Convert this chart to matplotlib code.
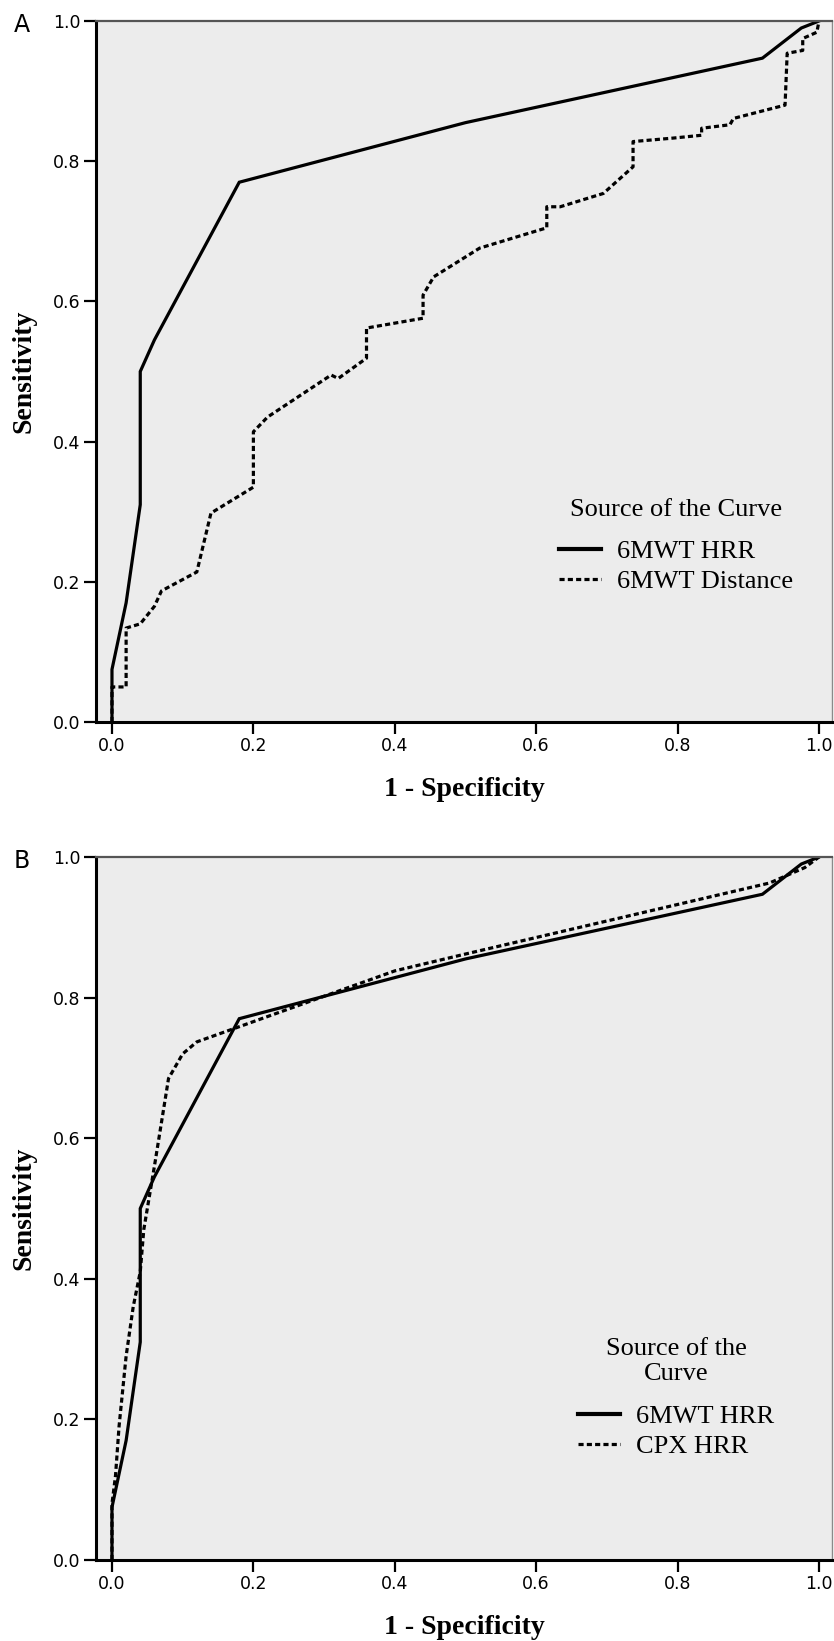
import matplotlib
matplotlib.use("Agg")
import matplotlib.pyplot as plt

# ---- data ----
hrr6_fpr = [0.0, 0.0, 0.02, 0.04, 0.04, 0.06, 0.18, 0.50, 0.92, 0.975, 1.0]
hrr6_tpr = [0.0, 0.075, 0.17, 0.31, 0.50, 0.545, 0.77, 0.855, 0.947, 0.99, 1.0]

dist_fpr = [0.0, 0.0, 0.02, 0.02, 0.04, 0.06, 0.07, 0.12, 0.14, 0.20, 0.20,
            0.22, 0.25, 0.31, 0.32, 0.36, 0.36, 0.44, 0.44, 0.455, 0.52,
            0.615, 0.615, 0.634, 0.695, 0.737, 0.737, 0.794, 0.834, 0.834,
            0.874, 0.879, 0.952, 0.955, 0.977, 0.977, 0.997, 1.0]
dist_tpr = [0.0, 0.05, 0.05, 0.134, 0.14, 0.165, 0.187, 0.214, 0.298, 0.335, 0.414,
            0.435, 0.455, 0.495, 0.49, 0.519, 0.562, 0.576, 0.609, 0.635, 0.676,
            0.705, 0.735, 0.735, 0.754, 0.792, 0.828, 0.833, 0.837, 0.847,
            0.852, 0.861, 0.88, 0.954, 0.958, 0.975, 0.984, 1.0]

cpx_fpr = [0.0, 0.0, 0.005, 0.01, 0.02, 0.03, 0.04, 0.045, 0.06, 0.08, 0.10,
           0.12, 0.17, 0.40, 0.50, 0.93, 0.98, 1.0]
cpx_tpr = [0.0, 0.08, 0.12, 0.19, 0.29, 0.36, 0.41, 0.47, 0.56, 0.685, 0.72,
           0.737, 0.755, 0.838, 0.862, 0.963, 0.985, 1.0]

ticks = [0.0, 0.2, 0.4, 0.6, 0.8, 1.0]
tick_labels = ["0.0", "0.2", "0.4", "0.6", "0.8", "1.0"]

panels = [
    ("A", [("6MWT HRR", hrr6_fpr, hrr6_tpr, "solid"),
           ("6MWT Distance", dist_fpr, dist_tpr, "dash")],
     "Source of the Curve"),
    ("B", [("6MWT HRR", hrr6_fpr, hrr6_tpr, "solid"),
           ("CPX HRR", cpx_fpr, cpx_tpr, "dash")],
     "Source of the\nCurve"),
]

W, H = 834, 1641
fig = plt.figure(figsize=(W / 100, H / 100), dpi=100)

# axes boxes in pixels: left, right, top, bottom
boxes = [(96, 832, 21, 722), (96, 832, 857, 1560)]
legend_centers = [(676, 546), (676, 1398)]
letter_pos = [(22, 25), (22, 861)]

serif = "Liberation Serif"

for (letter, series, leg_title), (l, r, t, b), (lx, ly), (px, py) in zip(
        panels, boxes, legend_centers, letter_pos):
    ax = fig.add_axes([l / W, 1 - b / H, (r - l) / W, (b - t) / H])
    ax.set_facecolor("#ececec")

    handles = []
    for name, xs, ys, style in series:
        if style == "solid":
            ln, = ax.plot(xs, ys, color="black", lw=2.3, solid_joinstyle="miter")
        else:
            ln, = ax.plot(xs, ys, color="black", lw=2.3, dashes=(1.6, 1.0))
        handles.append(ln)

    ax.set_xlim(-0.0226, 1.0184)
    ax.set_ylim(0, 1)
    ax.set_xticks(ticks)
    ax.set_xticklabels(tick_labels)
    ax.set_yticks(ticks)
    ax.set_yticklabels(tick_labels)
    ax.tick_params(axis="both", direction="out", length=8.5, width=1.6,
                   labelsize=12.5, colors="black", pad=2.5)
    for lab in ax.get_xticklabels() + ax.get_yticklabels():
        lab.set_family("DejaVu Sans")

    ax.spines["left"].set_linewidth(2.2)
    ax.spines["bottom"].set_linewidth(2.2)
    ax.spines["top"].set_color("#555555")
    ax.spines["top"].set_linewidth(1.6)
    ax.spines["right"].set_color("#8a8a8a")
    ax.spines["right"].set_linewidth(1.0)

    ax.set_xlabel("1 - Specificity", family=serif, weight="bold", fontsize=20, labelpad=16)
    ax.set_ylabel("Sensitivity", family=serif, weight="bold", fontsize=20, labelpad=12)

    leg = ax.legend(handles, [s[0] for s in series], title=leg_title,
                    loc="center", bbox_to_anchor=(lx / W, 1 - ly / H),
                    bbox_transform=fig.transFigure, frameon=False,
                    prop={"family": serif, "size": 19},
                    title_fontproperties={"family": serif, "size": 19},
                    handlelength=1.6, handletextpad=0.6, labelspacing=0.25)
    leg.get_title().set_multialignment("center")
    leg.get_lines()[0].set_linewidth(3.0)
    leg._legend_box.sep = 14

    fig.text(px / W, 1 - py / H, letter, fontsize=17, family="DejaVu Sans",
             ha="center", va="center")

fig.savefig("out.png", dpi=100)
